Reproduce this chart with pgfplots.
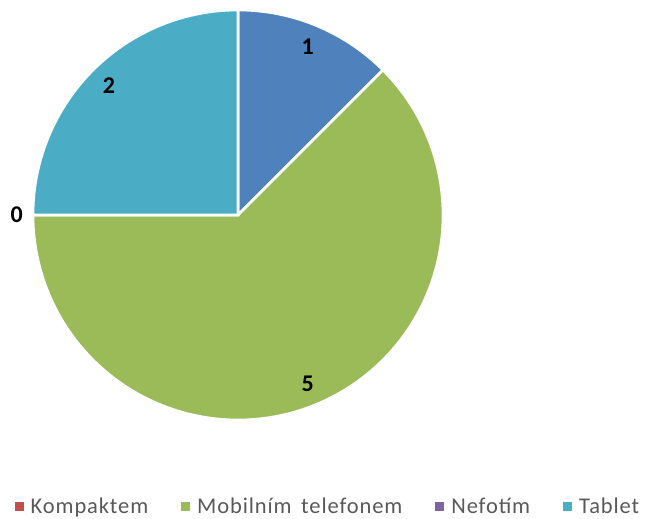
\documentclass[border=0pt]{standalone}
\usepackage{fontspec}
\setmainfont{Carlito}
\newfontfamily\legfont[LetterSpace=4,WordSpace=1.6]{Carlito}
\usepackage{pgfplots}
\pgfplotsset{compat=1.18}
\definecolor{cBlue}{HTML}{4F81BD}
\definecolor{cRed}{HTML}{C0504D}
\definecolor{cGreen}{HTML}{9BBB59}
\definecolor{cPurple}{HTML}{8064A2}
\definecolor{cTeal}{HTML}{4BACC6}
\definecolor{legtext}{HTML}{595959}
% value / colour / show label (1=inside, 2=outside, 0=none)
\def\pievalues{1/cBlue/1,0/cRed/0,5/cGreen/1,0/cPurple/2,2/cTeal/1}
\begin{document}
\begin{tikzpicture}
\useasboundingbox (0,0) rectangle (649pt,519pt);
\xdef\total{0}
\foreach \v/\c/\s in \pievalues {\pgfmathsetmacro\t{\total+\v}\xdef\total{\t}}
\begin{axis}[
  at={(238pt,304pt)}, anchor=origin,
  x=205pt, y=205pt,
  xmin=-1, xmax=1, ymin=-1, ymax=1,
  hide axis, clip=false,
  legend columns=4,
  legend style={draw=none, fill=none, at={(0.7195,-0.212)}, anchor=center,
    font=\legfont\fontsize{22.5}{26}\selectfont\color{legtext},
    /tikz/every even column/.append style={column sep=31pt},
    /tikz/every odd column/.append style={column sep=5pt}},
  legend image code/.code={\fill (0pt,-4.5pt) rectangle (9pt,4.5pt);},
]
\xdef\cum{0}
\foreach \v/\c/\s in \pievalues {
  \pgfmathsetmacro\a{90-360*\cum/\total}
  \pgfmathsetmacro\b{90-360*(\cum+\v)/\total}
  \pgfmathsetmacro\m{(\a+\b)/2}
  \ifdim\v pt>0pt
    \edef\tmp{\noexpand\addplot[fill=\c, draw=white, line width=2.6pt, line join=miter, domain=\b:\a, samples=120, forget plot] ({cos(x)},{sin(x)}) -- (axis cs:0,0) -- cycle;}\tmp
  \fi
  \ifnum\s=1
    \edef\tmp{\noexpand\node[font=\noexpand\fontsize{24}{28}\noexpand\selectfont\noexpand\bfseries] at (axis cs:{0.89*cos(\m)},{0.89*sin(\m)}) {\v};}\tmp
  \fi
  \ifnum\s=2
    \edef\tmp{\noexpand\node[font=\noexpand\fontsize{24}{28}\noexpand\selectfont\noexpand\bfseries] at (axis cs:{1.08*cos(\m)},{1.08*sin(\m)}) {\v};}\tmp
  \fi
  \pgfmathsetmacro\t{\cum+\v}\xdef\cum{\t}
}
\addlegendimage{fill=cRed, draw=none}
\addlegendentry{Kompaktem}
\addlegendimage{fill=cGreen, draw=none}
\addlegendentry{Mobilním telefonem}
\addlegendimage{fill=cPurple, draw=none}
\addlegendentry{Nefotím}
\addlegendimage{fill=cTeal, draw=none}
\addlegendentry{Tablet}
\end{axis}
\end{tikzpicture}
\end{document}
